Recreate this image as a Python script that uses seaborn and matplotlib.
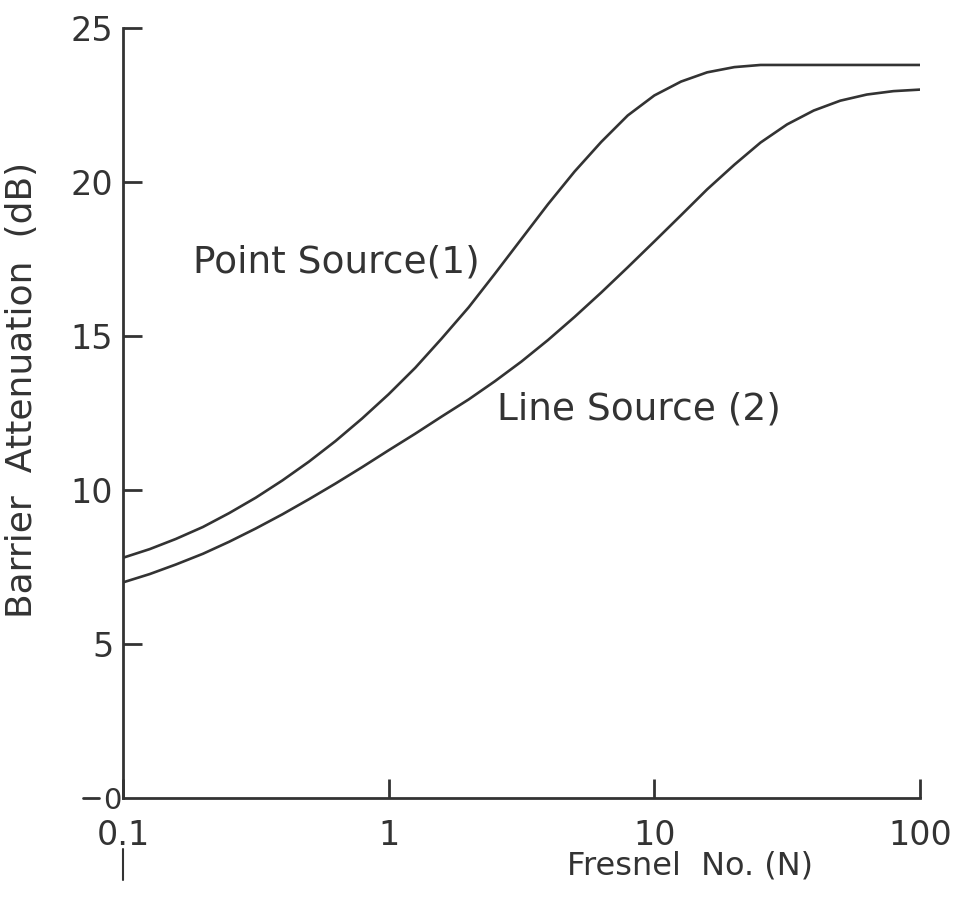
import numpy as np
import pandas as pd
import seaborn as sns
import matplotlib
matplotlib.use("Agg")
import matplotlib.pyplot as plt
from matplotlib.lines import Line2D

# ---- data ----
point_fresnel = [0.1, 0.126, 0.158, 0.2, 0.251, 0.316, 0.398, 0.501, 0.631, 0.794, 1.0,
                 1.26, 1.58, 2.0, 2.51, 3.16, 3.98, 5.01, 6.31, 7.94, 10.0, 12.6, 15.8,
                 20.0, 25.1, 100]
point_atten = [7.8, 8.08, 8.41, 8.80, 9.25, 9.75, 10.31, 10.92, 11.59, 12.32, 13.11,
               13.97, 14.91, 15.93, 17.02, 18.15, 19.28, 20.34, 21.30, 22.16, 22.81, 23.26,
               23.56, 23.73, 23.8, 23.8]

line_fresnel = [0.1, 0.126, 0.158, 0.2, 0.251, 0.316, 0.398, 0.501, 0.631, 0.794, 1.0,
                1.26, 1.58, 2.0, 2.51, 3.16, 3.98, 5.01, 6.31, 7.94, 10.0, 12.6, 15.8,
                20.0, 25.1, 31.6, 39.8, 50.1, 63.1, 79.4, 100]
line_atten = [7.0, 7.27, 7.58, 7.93, 8.32, 8.75, 9.21, 9.70, 10.21, 10.74, 11.29,
              11.83, 12.38, 12.94, 13.53, 14.17, 14.87, 15.62, 16.41, 17.23, 18.07, 18.92,
              19.76, 20.56, 21.28, 21.87, 22.32, 22.64, 22.84, 22.95, 23.0]

series_names = ["Point Source(1)", "Line Source (2)"]
x_ticks = [0.1, 1, 10, 100]
x_tick_labels = ["0.1", "1", "10", "100"]
y_ticks = [5, 10, 15, 20, 25]

df = pd.concat([
    pd.DataFrame({"N": point_fresnel, "A": point_atten, "src": series_names[0]}),
    pd.DataFrame({"N": line_fresnel, "A": line_atten, "src": series_names[1]}),
])

sns.set_theme(style="white")
plt.rcParams['font.family'] = ['DejaVu Sans']
ink = "#333333"

fig = plt.figure(figsize=(9.69, 8.99), dpi=100)
ax = fig.add_axes([123 / 969, 101 / 899, 797 / 969, 770 / 899])

sns.lineplot(data=df, x="N", y="A", hue="src", units="src", estimator=None,
             palette=[ink, ink], linewidth=1.9, legend=False, ax=ax, sort=False)

ax.set_xscale("log")
ax.set_xlim(0.1, 100)
ax.set_ylim(0, 25)

for s in ["top", "right"]:
    ax.spines[s].set_visible(False)
for s in ["left", "bottom"]:
    ax.spines[s].set_color(ink)
    ax.spines[s].set_linewidth(2.0)

ax.set_xticks(x_ticks)
ax.set_xticklabels(x_tick_labels)
ax.xaxis.set_minor_locator(matplotlib.ticker.NullLocator())
ax.set_yticks(y_ticks)
ax.set_yticks([0], labels=["0"], minor=True)
ax.tick_params(axis="both", which="major", direction="in", length=14, width=2,
               color=ink, labelcolor=ink, labelsize=24, pad=7,
               bottom=True, left=True)
ax.tick_params(axis="y", which="minor", direction="out", length=0, width=2,
               color=ink, labelcolor=ink, labelsize=21, pad=1, left=True)
ax.tick_params(axis="x", which="major", pad=15)

ax.set_xlabel("Fresnel  No. (N)", fontsize=23, color=ink)
ax.set_ylabel("Barrier  Attenuation  (dB)", fontsize=26, color=ink)
ax.xaxis.set_label_coords(0.711, -0.068)
ax.yaxis.set_label_coords(-0.106, 0.53)

ax.text(0.183, 17.4, series_names[0], fontsize=27, color=ink, va="center", ha="left")
ax.text(2.55, 12.6, series_names[1], fontsize=27, color=ink, va="center", ha="left")

# dash in front of the 0 label and extension of the vertical axis below 0.1
ax.add_line(Line2D([-0.050, -0.030], [0, 0], transform=ax.transAxes, color=ink,
                   linewidth=2.0, clip_on=False))
ax.add_line(Line2D([0, 0], [-0.066, -0.106], transform=ax.transAxes, color=ink,
                   linewidth=1.5, clip_on=False))

fig.savefig("out.png", dpi=100)
